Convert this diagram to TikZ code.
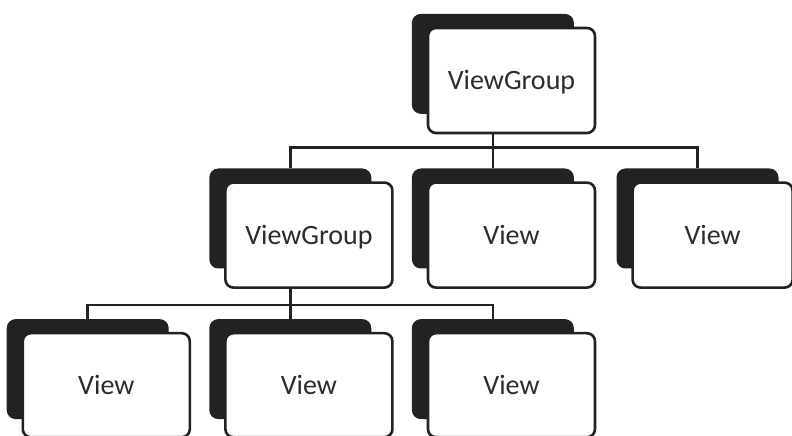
\documentclass[tikz,border=0pt]{standalone}
\usepackage{fontspec}
\setmainfont{Carlito}
\usetikzlibrary{positioning,backgrounds}
\definecolor{vgink}{HTML}{222222}
\definecolor{vgtext}{HTML}{2C2C2C}

\begin{document}
\begin{tikzpicture}[
    x=1pt,y=1pt,
    font=\fontsize{28}{34}\selectfont,
    card/.style={draw=vgink,fill=white,line width=2.6pt,rounded corners=8pt,minimum width=167pt,minimum height=105pt,inner sep=0pt,text height=18pt,text depth=0pt,text=vgtext},
    backcard/.style={fill=vgink,rounded corners=9pt,minimum width=162pt,minimum height=100pt,inner sep=0pt,anchor=north west},
    link/.style={draw=vgink,line width=2.6pt}
  ]
    \useasboundingbox (0,0) rectangle (792,436);
    \node[card] (root) at (511.5,355.5) {ViewGroup};
    \node[card,below=47pt of root] (va) {View};
    \node[card,left=33pt of va] (sub) {ViewGroup};
    \node[card,right=35pt of va,minimum width=160pt] (vb) {View};
    \node[card,below=43pt of sub,minimum height=104pt] (vd) {View};
    \node[card,left=33pt of vd,minimum height=104pt] (vc) {View};
    \node[card,right=33pt of vd,minimum height=104pt] (ve) {View};

    % dark cards behind
    \begin{scope}[on background layer]
      \foreach \n in {root,sub,va,vb,vc,vd,ve}
        \node[backcard] (\n-s) at ([shift={(-15pt,13pt)}]\n.north west) {};
    \end{scope}

    \coordinate (bus1) at ([yshift=-13pt]root-s.north |- root.south);
    \draw[link] (root-s.north |- root.south) -- (bus1);
    \draw[link] (sub-s.north) |- (bus1) -| (vb-s.north);
    \draw[link] (bus1) -- (va-s.north);

    \coordinate (bus2) at ([yshift=-16pt]sub-s.north |- sub.south);
    \draw[link] (sub-s.north |- sub.south) -- (bus2);
    \draw[link] (vc-s.north) |- (bus2) -| (ve-s.north);
    \draw[link] (bus2) -- (vd-s.north);
  \end{tikzpicture}
\end{document}
